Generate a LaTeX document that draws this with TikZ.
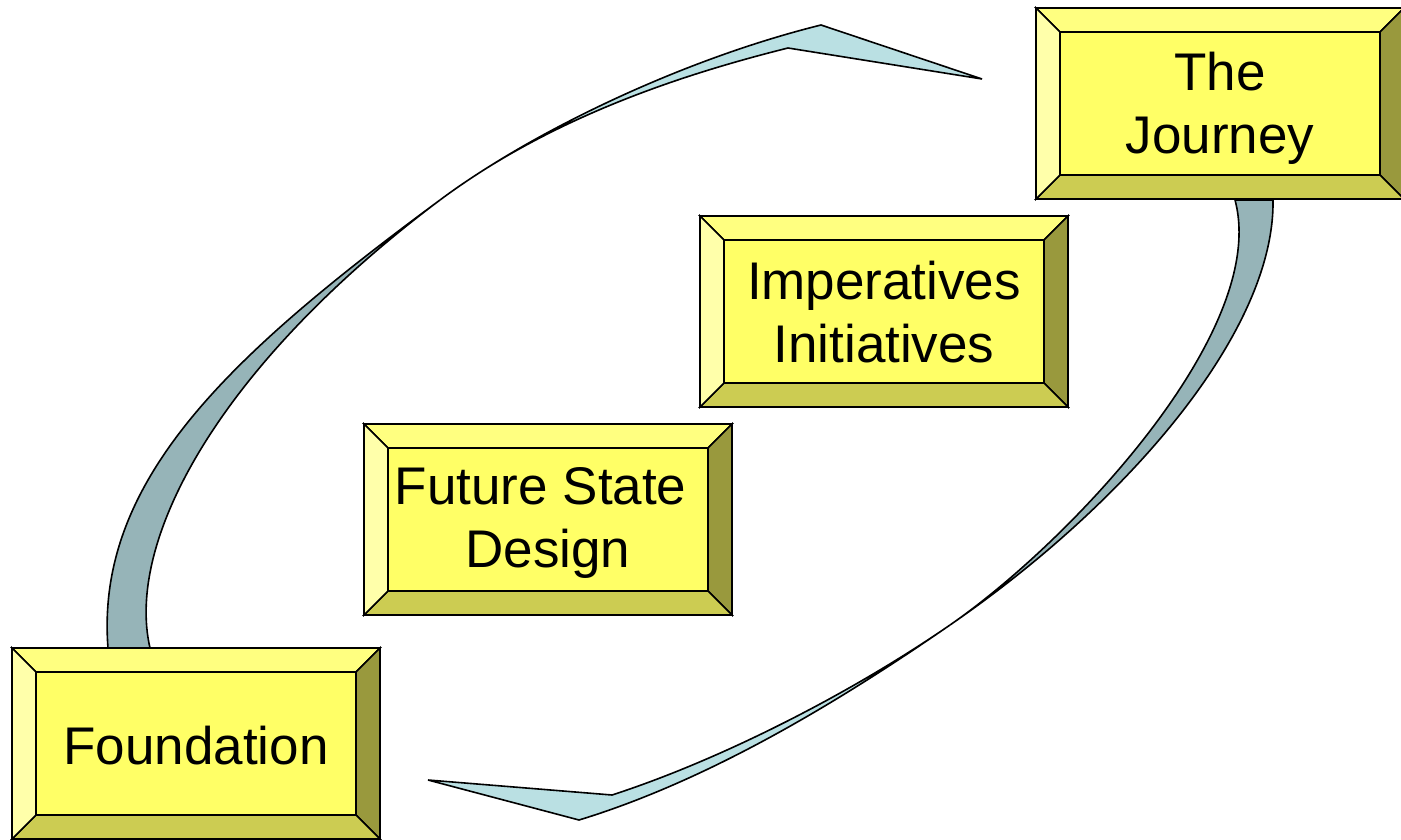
\documentclass[tikz,border=0pt]{standalone}
\usepackage{fontspec}
\setmainfont{Liberation Sans}
\usetikzlibrary{calc}
\definecolor{ctop}{RGB}{255,255,128}
\definecolor{cleft}{RGB}{255,255,170}
\definecolor{cmid}{RGB}{255,255,102}
\definecolor{cbot}{RGB}{204,204,82}
\definecolor{cright}{RGB}{153,153,61}
\definecolor{rgray}{RGB}{150,180,184}
\definecolor{rcyan}{RGB}{186,224,227}
\tikzset{
  face/.style={draw=black, line width=1.6pt, line join=miter},
  outerframe/.style={draw=black, line width=2.6pt},
  boxtext/.style={inner sep=0pt, align=center, font=\fontsize{53}{63}\selectfont},
  ribbon/.style={draw=black, line width=1.6pt, line join=miter}
}
\newcommand{\bevbox}[5]{%
  \path (#2,#3) coordinate (#1-A) ++(368,0) coordinate (#1-B) ++(0,191) coordinate (#1-C) ++(-368,0) coordinate (#1-D);
  \path (#2+24,#3+24) coordinate (#1-a) ++(320,0) coordinate (#1-b) ++(0,143) coordinate (#1-c) ++(-320,0) coordinate (#1-d);
  \filldraw[face, fill=ctop] (#1-A) -- (#1-B) -- (#1-b) -- (#1-a) -- cycle;
  \filldraw[face, fill=cright] (#1-B) -- (#1-C) -- (#1-c) -- (#1-b) -- cycle;
  \filldraw[face, fill=cbot] (#1-C) -- (#1-D) -- (#1-d) -- (#1-c) -- cycle;
  \filldraw[face, fill=cleft] (#1-D) -- (#1-A) -- (#1-a) -- (#1-d) -- cycle;
  \filldraw[face, fill=cmid] (#1-a) rectangle (#1-c);
  \draw[outerframe] (#1-A) rectangle (#1-C);
  \node[boxtext] (#1) at ($(#1-a)!0.5!(#1-c)+(0,#4)$) {#5};
}
\begin{document}
\begin{tikzpicture}[x=1pt,y=-1pt]
\useasboundingbox (0,0) rectangle (1401,840);
% left ribbon (Foundation -> top)
\coordinate (LbO) at (108,648);
\coordinate (LbI) at (150,648);
\coordinate (LP) at (440,200);
\coordinate (LhO) at (821,25);
\coordinate (LhT) at (982,79);
\coordinate (LhI) at (788,48);
\filldraw[ribbon, fill=rgray] (LbO) .. controls (95,480) and (230,355) .. (LP)
   .. controls (220,365) and (125,540) .. (LbI) -- cycle;
\filldraw[ribbon, fill=rcyan] (LP) .. controls (530,133) and (680,60) .. (LhO)
   -- (LhT) -- (LhI) .. controls (680,75) and (550,118) .. (LP) -- cycle;
% right ribbon (Journey -> bottom)
\coordinate (RbO) at (1273,200);
\coordinate (RbI) at (1235,200);
\coordinate (RQ) at (950,625);
\coordinate (RhO) at (579,820);
\coordinate (RhT) at (428,780);
\coordinate (RhI) at (612,795);
\filldraw[ribbon, fill=rgray] (RbO) .. controls (1275,330) and (1130,501) .. (RQ)
   .. controls (1070,542) and (1270,330) .. (RbI) -- cycle;
\filldraw[ribbon, fill=rcyan] (RQ) .. controls (850,694) and (720,760) .. (RhI)
   -- (RhT) -- (RhO) .. controls (710,780) and (840,701) .. (RQ) -- cycle;
% boxes
\bevbox{journey}{1036}{8}{5}{The\\Journey}
\bevbox{imper}{700}{216}{1}{Imperatives\\Initiatives}
\bevbox{future}{364}{424}{3}{Future State\hspace*{0.278em}\\Design}
\bevbox{found}{12}{648}{2}{Foundation}
\end{tikzpicture}
\end{document}
